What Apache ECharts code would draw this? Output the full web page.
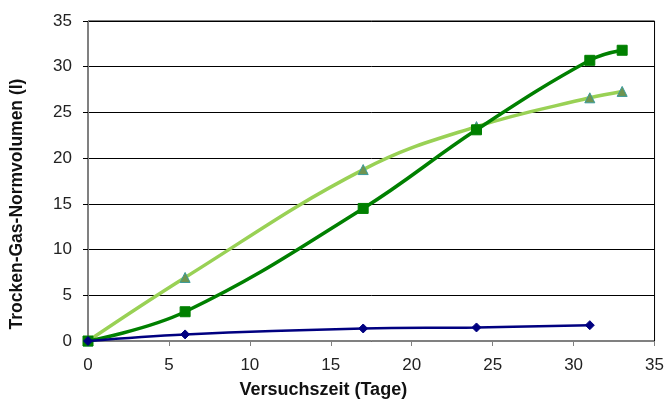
<!DOCTYPE html>
<html><head><meta charset="utf-8">
<script src="https://cdn.jsdelivr.net/npm/echarts@6/dist/echarts.min.js"></script>
<style>html,body{margin:0;padding:0;background:#fff}#c{width:667px;height:404px}</style>
</head><body><div id="c"></div>
<script>
const days1 = [0, 6, 17, 24, 31];
const blueValues = [0, 0.72, 1.37, 1.48, 1.73];
const days2 = [0, 6, 17, 24, 31, 33];
const darkGreenValues = [0, 3.2, 14.5, 23.1, 30.7, 31.8];
const days3 = [0, 6, 17, 24, 31, 33];
const lightGreenValues = [0, 6.95, 18.75, 23.45, 26.6, 27.3];
const xTitle = 'Versuchszeit (Tage)';
const yTitle = 'Trocken-Gas-Normvolumen (l)';

const pairs = (xs, ys) => xs.map((x, i) => [x, ys[i]]);
const chart = echarts.init(document.getElementById('c'));
const font = 'Liberation Sans, Arial, sans-serif';
chart.setOption({
  animation: false,
  grid: {left: 88, right: 10, top: 21, bottom: 59, show: true, borderColor: '#000', borderWidth: 1},
  xAxis: {
    type: 'value', min: 0, max: 35, interval: 5,
    name: xTitle, nameLocation: 'middle', nameGap: 40,
    nameTextStyle: {fontFamily: font, fontSize: 18, fontWeight: 'bold', color: '#111', padding: [0, 96, 0, 0]},
    axisLine: {lineStyle: {color: '#808080', width: 1}},
    axisTick: {show: true, length: 5, lineStyle: {color: '#808080'}},
    axisLabel: {fontFamily: font, fontSize: 17, color: '#222', margin: 16},
    splitLine: {show: false}
  },
  yAxis: {
    type: 'value', min: 0, max: 35, interval: 5,
    name: yTitle, nameLocation: 'middle', nameGap: 62, nameRotate: 90,
    nameTextStyle: {fontFamily: font, fontSize: 17.5, fontWeight: 'bold', color: '#111', padding: [0, 46, 0, 0]},
    axisLine: {show: true, lineStyle: {color: '#808080', width: 1}},
    axisTick: {show: true, length: 5, lineStyle: {color: '#000'}},
    axisLabel: {fontFamily: font, fontSize: 17, color: '#222', margin: 16},
    splitLine: {show: true, lineStyle: {color: '#000', width: 1}}
  },
  series: [
    {type: 'line', data: pairs(days3, lightGreenValues), smooth: 0.4, z: 2,
     lineStyle: {color: '#99d155', width: 3.5},
     symbol: 'triangle', symbolSize: 10,
     itemStyle: {color: '#6f9450', borderColor: '#3a9a9a', borderWidth: 1}},
    {type: 'line', data: pairs(days2, darkGreenValues), smooth: 0.4, z: 3,
     lineStyle: {color: '#008000', width: 3.5},
     symbol: 'rect', symbolSize: 10,
     itemStyle: {color: '#008000', borderColor: '#008000'}},
    {type: 'line', data: pairs(days1, blueValues), smooth: 0.4, z: 4,
     lineStyle: {color: '#000080', width: 2.5},
     symbol: 'diamond', symbolSize: 9,
     itemStyle: {color: '#000080', borderColor: '#000080'}}
  ]
});
</script></body></html>
